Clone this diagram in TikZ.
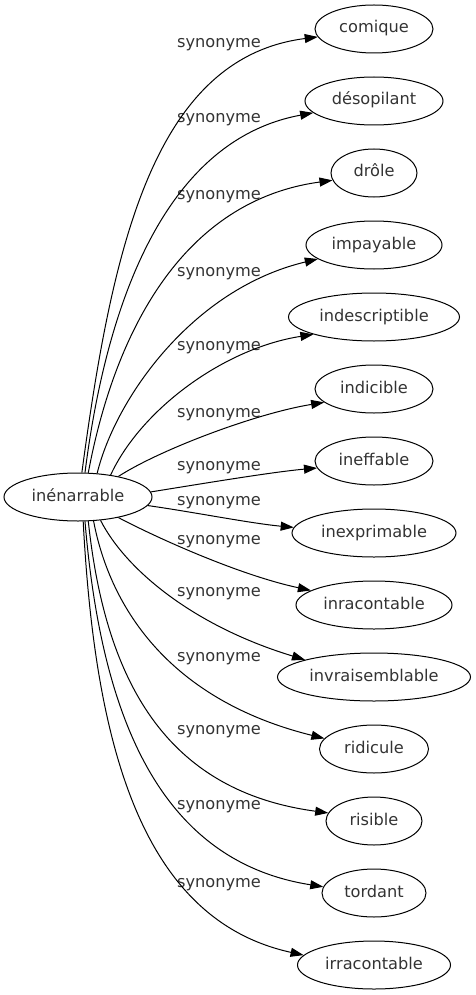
\documentclass[tikz,border=0pt]{standalone}
\usepackage{fontspec}
\setmainfont{DejaVu Sans}
\usetikzlibrary{arrows.meta, shapes.geometric}

\begin{document}
\begin{tikzpicture}[
    x=1pt, y=-1pt,
    font=\fontsize{16.2}{19}\selectfont,
    mot/.style={draw, ellipse, line width=1pt, inner sep=0pt, minimum height=48pt,
                text=black!80, text height=12pt, text depth=4pt},
    fleche/.style={-{Triangle[length=13pt, width=9pt]}, line width=1pt},
    etiq/.style={text=black!80, text height=12pt, text depth=4pt, inner sep=0pt}
  ]
  \useasboundingbox (0,0) rectangle (476,995);

  % Mot de depart
  \node[mot, minimum width=148pt] (inen) at (78,497) {inénarrable};

  % Synonymes (colonne de droite)
  \node[mot, minimum width=118pt] (comique)    at (374,29)  {comique};
  \node[mot, minimum width=138pt] (desopilant) at (374,101) {désopilant};
  \node[mot, minimum width=86pt]  (drole)      at (374,173) {drôle};
  \node[mot, minimum width=136pt] (impayable)  at (374,245) {impayable};
  \node[mot, minimum width=171pt] (indescr)    at (374,317) {indescriptible};
  \node[mot, minimum width=118pt] (indicible)  at (374,389) {indicible};
  \node[mot, minimum width=118pt] (ineffable)  at (374,461) {ineffable};
  \node[mot, minimum width=164pt] (inexpr)     at (374,533) {inexprimable};
  \node[mot, minimum width=156pt] (inracont)   at (374,605) {inracontable};
  \node[mot, minimum width=193pt] (invrais)    at (374,677) {invraisemblable};
  \node[mot, minimum width=109pt] (ridicule)   at (374,749) {ridicule};
  \node[mot, minimum width=96pt]  (risible)    at (374,821) {risible};
  \node[mot, minimum width=104pt] (tordant)    at (374,893) {tordant};
  \node[mot, minimum width=153pt] (irracont)   at (374,965) {irracontable};

  % Etiquettes des aretes
  \node[etiq] (e1)  at (219,44)    {synonyme};
  \node[etiq] (e2)  at (219,118.5) {synonyme};
  \node[etiq] (e3)  at (219,196)   {synonyme};
  \node[etiq] (e4)  at (219,272)   {synonyme};
  \node[etiq] (e5)  at (219,346.5) {synonyme};
  \node[etiq] (e6)  at (219,413)   {synonyme};
  \node[etiq] (e7)  at (219,466)   {synonyme};
  \node[etiq] (e8)  at (219,501.5) {synonyme};
  \node[etiq] (e9)  at (219,540)   {synonyme};
  \node[etiq] (e10) at (219,592.5) {synonyme};
  \node[etiq] (e11) at (219,657.5) {synonyme};
  \node[etiq] (e12) at (219,730.5) {synonyme};
  \node[etiq] (e13) at (219,805.5) {synonyme};
  \node[etiq] (e14) at (219,883)   {synonyme};

  % --- Aretes vers le haut ---
  \draw[fleche] (inen.81) .. controls +(30,-223) and +(-165,21) .. (comique.188);
  \draw[fleche] (inen.74) .. controls +(22,-174) and +(-146,27) .. (desopilant.191);
  \draw[fleche] (inen.67) .. controls +(27,-144) and +(-148,20) .. (drole.190);
  \draw[fleche] (inen.51) .. controls +(18,-74)  and +(-126,30) .. (impayable.194);
  \draw[fleche] (inen.34) .. controls +(30,-65)  and +(-90,14)  .. (indescr.196);
  \draw[fleche] (inen.27) .. controls +(42,-27)  and +(-68,11)  .. (indicible.195);
  \draw[fleche] (inen.4)  .. controls +(50,-8)   and +(-45,4)   .. (ineffable.187);

  % --- Aretes vers le bas ---
  \draw[fleche] (inen.353) .. controls +(43,6)   and +(-43,-4)   .. (inexpr.176);
  \draw[fleche] (inen.333) .. controls +(42,22)  and +(-70,-15)  .. (inracont.167);
  \draw[fleche] (inen.314) .. controls +(25,49)  and +(-112,-34) .. (invrais.166);
  \draw[fleche] (inen.303) .. controls +(17,89)  and +(-153,-38) .. (ridicule.168);
  \draw[fleche] (inen.293) .. controls +(17,159) and +(-163,-22) .. (risible.170);
  \draw[fleche] (inen.286) .. controls +(15,179) and +(-172,-27) .. (tordant.173);
  \draw[fleche] (inen.282) .. controls +(12,229) and +(-160,-35) .. (irracont.172);

\end{tikzpicture}
\end{document}
